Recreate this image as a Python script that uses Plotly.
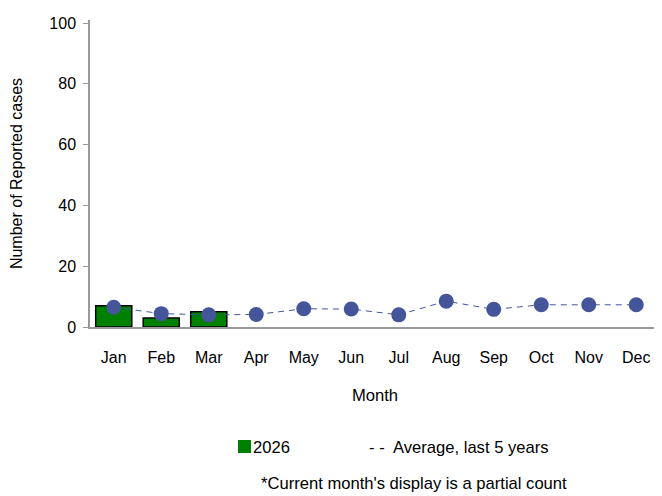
import plotly.graph_objects as go

months = ["Jan", "Feb", "Mar", "Apr", "May", "Jun", "Jul", "Aug", "Sep", "Oct", "Nov", "Dec"]
cases_2026 = [7, 3, 5]
avg_5yr = [6.5, 4.4, 4.0, 4.1, 6.0, 5.9, 4.0, 8.5, 5.8, 7.3, 7.3, 7.3]
y_ticks = [0, 20, 40, 60, 80, 100]

FONT = "Liberation Sans, Arial, sans-serif"
FS = 16
FS_NOTE = 16.6

# The page body has an 8px margin, so the figure is sized to fill the rest of the window.
PLOT_L, PLOT_R, PLOT_T, PLOT_B = 90, 660, 20, 327  # window pixels
W, H = 654, 488
OFF = 8

fig = go.Figure()
fig.add_trace(go.Bar(
    x=months[:len(cases_2026)], y=cases_2026, name="2026",
    marker=dict(color="#008000", line=dict(color="#000000", width=1.5)),
    width=0.76, showlegend=False,
))
fig.add_trace(go.Scatter(
    x=months, y=avg_5yr, name="Average, last 5 years", mode="lines+markers",
    line=dict(color="#44559A", width=1, dash="6px,5px"),
    marker=dict(color="#44559A", size=15),
    showlegend=False,
))

pw = PLOT_R - PLOT_L
ph = PLOT_B - PLOT_T


def px(x):
    return (x - PLOT_L) / pw


def py(y):
    return (PLOT_B - y) / ph


fig.update_layout(
    width=W, height=H,
    margin=dict(l=PLOT_L - OFF, r=W + OFF - PLOT_R, t=PLOT_T - OFF, b=H + OFF - PLOT_B),
    paper_bgcolor="white", plot_bgcolor="white",
    font=dict(family=FONT, size=FS, color="#000000"),
    xaxis=dict(
        categoryorder="array", categoryarray=months, range=[-0.5, 11.5],
        showline=True, linecolor="#999999", linewidth=1.5,
        ticks="outside", ticklen=15, tickcolor="rgba(0,0,0,0)",
        showgrid=False, zeroline=False,
        title=dict(text="Month", standoff=24, font=dict(size=FS_NOTE)),
        tickfont=dict(size=FS),
    ),
    yaxis=dict(
        range=[0, 101], tickvals=y_ticks,
        showline=True, linecolor="#999999", linewidth=1.5,
        ticks="outside", ticklen=5, tickcolor="#999999",
        ticklabelstandoff=4,
        showgrid=False, zeroline=False,
        title=dict(text="Number of Reported cases", standoff=24, font=dict(size=FS)),
        tickfont=dict(size=FS),
    ),
    shapes=[dict(type="rect", xref="paper", yref="paper",
                 x0=px(238), x1=px(251), y0=py(453), y1=py(440),
                 fillcolor="#008000", line=dict(width=0))],
    annotations=[
        dict(text="2026", xref="paper", yref="paper",
             x=px(251), y=py(447),
             xanchor="left", yanchor="middle", showarrow=False, font=dict(size=FS_NOTE)),
        dict(text="- -  Average, last 5 years", xref="paper", yref="paper",
             x=px(367), y=py(447),
             xanchor="left", yanchor="middle", showarrow=False, font=dict(size=FS_NOTE)),
        dict(text="*Current month's display is a partial count", xref="paper", yref="paper",
             x=px(414), y=py(483),
             xanchor="center", yanchor="middle", showarrow=False, font=dict(size=FS_NOTE)),
    ],
)

fig.write_html("out.html")
